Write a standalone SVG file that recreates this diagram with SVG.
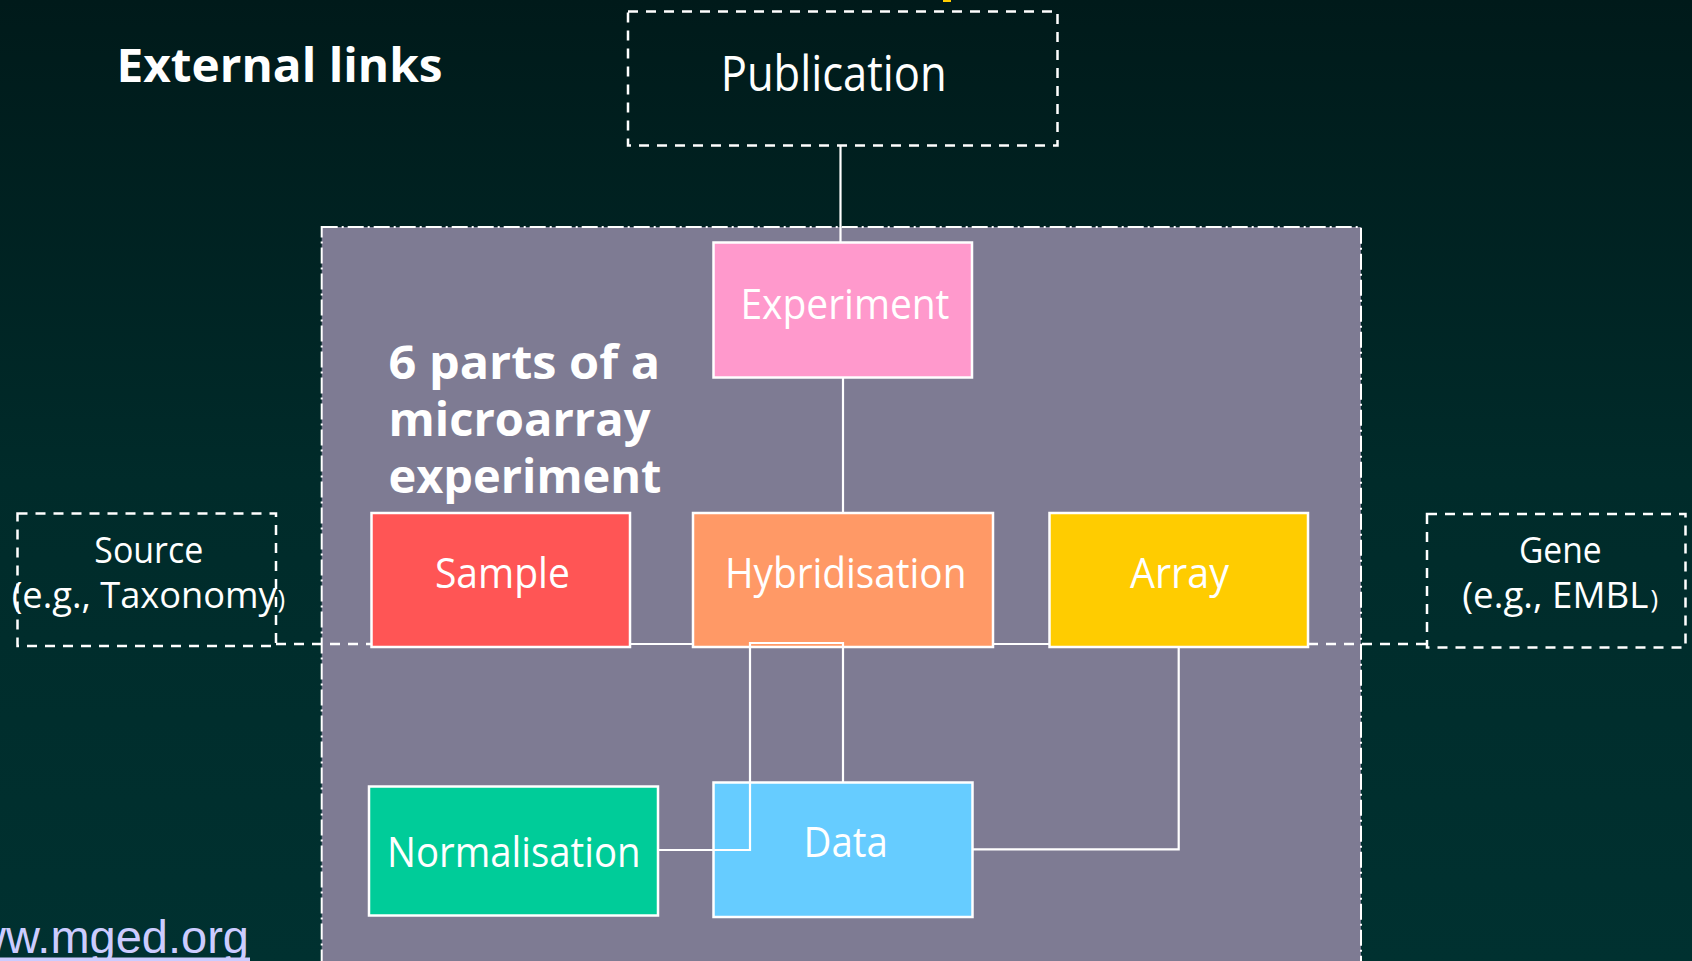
<svg xmlns="http://www.w3.org/2000/svg" width="1692" height="961" viewBox="0 0 1692 961">
  <defs>
    <linearGradient id="bg" x1="0" y1="0" x2="0" y2="1">
      <stop offset="0" stop-color="#001a1a"/>
      <stop offset="0.5" stop-color="#002b2a"/>
      <stop offset="1" stop-color="#003130"/>
    </linearGradient>
    <style>
      .box { stroke: #ffffff; stroke-width: 2.5; }
      .ext { fill: none; stroke: #ffffff; stroke-width: 2.5; stroke-dasharray: 10 8; }
      .lbl { font-family: "Open Sans", "Noto Sans", "DejaVu Sans", sans-serif; fill: #ffffff; text-anchor: middle; }
      .head { font-family: "Open Sans", "Noto Sans", "DejaVu Sans", sans-serif; font-weight: bold; fill: #ffffff; }
      .wire { fill: none; stroke: #ffffff; stroke-width: 2.2; }
      .wire-dash { fill: none; stroke: #ffffff; stroke-width: 2.5; stroke-dasharray: 10 8; }
    </style>
  </defs>

  <!-- background -->
  <rect x="0" y="0" width="1692" height="961" fill="url(#bg)"/>
  <rect x="943" y="-2" width="8" height="4" fill="#ffcc00"/>

  <!-- experiment panel -->
  <rect id="panel" x="321.7" y="227" width="1039.3" height="760" fill="#7e7b93" stroke="#ffffff" stroke-width="2" stroke-dasharray="16 4 2 4"/>

  <!-- headings -->
  <text class="head" x="116.5" y="82" font-size="47" textLength="326" lengthAdjust="spacingAndGlyphs">External links</text>
  <g id="panel-title" class="head" font-size="46">
    <text x="388.5" y="379" textLength="271.5" lengthAdjust="spacingAndGlyphs">6 parts of a</text>
    <text x="388.5" y="436" textLength="262" lengthAdjust="spacingAndGlyphs">microarray</text>
    <text x="388.5" y="493" textLength="273" lengthAdjust="spacingAndGlyphs">experiment</text>
  </g>

  <!-- external link nodes -->
  <g id="publication">
    <rect class="ext" x="628" y="11.5" width="429.5" height="134"/>
    <text class="lbl" x="833.7" y="90.5" font-size="49" textLength="226" lengthAdjust="spacingAndGlyphs">Publication</text>
  </g>
  <g id="source">
    <rect class="ext" x="17.5" y="513.5" width="258.5" height="132.5"/>
    <text class="lbl" x="148.8" y="563.3" font-size="36" textLength="109" lengthAdjust="spacingAndGlyphs">Source</text>
    <text class="lbl" y="608.3" font-size="36" style="text-anchor:start"><tspan x="11.7" textLength="265" lengthAdjust="spacingAndGlyphs">(e.g., Taxonomy</tspan><tspan x="277.5" font-size="26">)</tspan></text>
  </g>
  <g id="gene">
    <rect class="ext" x="1427" y="514" width="258.5" height="133.5"/>
    <text class="lbl" x="1560.3" y="563.3" font-size="36" textLength="82.7" lengthAdjust="spacingAndGlyphs">Gene</text>
    <text class="lbl" y="607.5" font-size="36" style="text-anchor:start"><tspan x="1462.3" textLength="186" lengthAdjust="spacingAndGlyphs">(e.g., EMBL</tspan><tspan x="1650.5" font-size="26">)</tspan></text>
  </g>

  <!-- parts of the experiment -->
  <g id="experiment">
    <rect class="box" x="713.5" y="242.5" width="258.5" height="135" fill="#ff99cc"/>
    <text class="lbl" x="845" y="318.5" font-size="42" textLength="209" lengthAdjust="spacingAndGlyphs">Experiment</text>
  </g>
  <g id="sample">
    <rect class="box" x="371.5" y="513" width="258.5" height="134" fill="#ff5555"/>
    <text class="lbl" x="502.4" y="588" font-size="42" textLength="135" lengthAdjust="spacingAndGlyphs">Sample</text>
  </g>
  <g id="hybridisation">
    <rect class="box" x="693" y="513" width="300" height="134" fill="#ff9966"/>
    <text class="lbl" x="845.7" y="588" font-size="42" textLength="241.5" lengthAdjust="spacingAndGlyphs">Hybridisation</text>
  </g>
  <g id="array">
    <rect class="box" x="1049.5" y="513" width="258.5" height="134" fill="#ffcc00"/>
    <text class="lbl" x="1179.5" y="588" font-size="42" textLength="99" lengthAdjust="spacingAndGlyphs">Array</text>
  </g>
  <g id="normalisation">
    <rect class="box" x="369" y="786.5" width="289" height="129" fill="#00cc99"/>
    <text class="lbl" x="513.8" y="867.3" font-size="42" textLength="253.5" lengthAdjust="spacingAndGlyphs">Normalisation</text>
  </g>
  <g id="data">
    <rect class="box" x="713.5" y="782.5" width="259" height="134.5" fill="#66ccff"/>
    <text class="lbl" x="845.7" y="857.3" font-size="42" textLength="84.4" lengthAdjust="spacingAndGlyphs">Data</text>
  </g>

  <!-- connectors -->
  <g id="connectors">
    <path class="wire" d="M840.5,146 V242.5"/>
    <path class="wire" d="M843,377.5 V513"/>
    <path class="wire" d="M630,644 H693"/>
    <path class="wire" d="M993,644 H1049.5"/>
    <path class="wire-dash" d="M276,644 H371.5"/>
    <path class="wire-dash" d="M1308,644 H1427"/>
    <path class="wire" d="M658,850 H750 V643 H843 V782.5"/>
    <path class="wire" d="M1178.7,647 V849.3 H972.5"/>
  </g>

  <!-- web link -->
  <g id="link">
    <text x="249" y="953" font-family="'Liberation Sans', Arial, sans-serif" font-size="47" fill="#ccccff" text-anchor="end">www.mged.org</text>
    <rect x="-10" y="957.5" width="260" height="4" fill="#ccccff"/>
  </g>
</svg>
